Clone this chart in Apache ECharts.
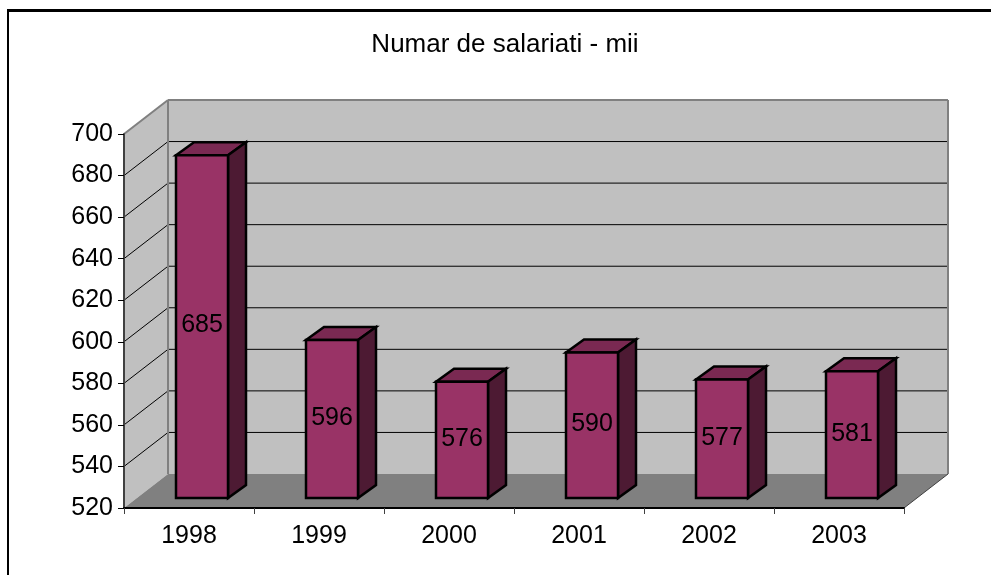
<!DOCTYPE html>
<html>
<head>
<meta charset="utf-8">
<style>
  html, body { margin: 0; padding: 0; background: #fff; }
  #main { width: 991px; height: 575px; }
</style>
<script src="https://cdn.jsdelivr.net/npm/echarts@6/dist/echarts.min.js"></script>
</head>
<body>
<div id="main"></div>
<script>
var years = ['1998', '1999', '2000', '2001', '2002', '2003'];
var salariati = [685, 596, 576, 590, 577, 581];
var yTicks = [520, 540, 560, 580, 600, 620, 640, 660, 680, 700];

// 3d look: wall depth, offset of the bar front from the axis, bar depth
var wallDx = 44, wallDy = -34;
var frontDx = 13, frontDy = -10;
var barDx = 18, barDy = -13;

var font = 'Liberation Sans';

function poly(points, fill, stroke, lineWidth) {
  return {
    type: 'polygon',
    shape: { points: points },
    style: { fill: fill, stroke: stroke || null, lineWidth: lineWidth || 0, lineJoin: 'miter' }
  };
}

function line(x1, y1, x2, y2, color, width) {
  return {
    type: 'line',
    shape: { x1: x1, y1: y1, x2: x2, y2: y2 },
    style: { stroke: color, lineWidth: width, fill: null }
  };
}

function renderWalls(params, api) {
  var r = params.coordSys;
  var left = r.x, right = r.x + r.width, top = r.y, bottom = r.y + r.height;
  var kids = [
    poly([[left, top], [left + wallDx, top + wallDy], [left + wallDx, bottom + wallDy], [left, bottom]], '#c0c0c0'),
    poly([[left + wallDx, top + wallDy], [right + wallDx, top + wallDy], [right + wallDx, bottom + wallDy], [left + wallDx, bottom + wallDy]], '#c0c0c0'),
    poly([[left, bottom], [left + wallDx, bottom + wallDy], [right + wallDx, bottom + wallDy], [right, bottom]], '#808080')
  ];
  yTicks.forEach(function (t) {
    if (t === yTicks[0] || t === yTicks[yTicks.length - 1]) return;
    var y = api.coord([0, t])[1];
    kids.push(line(left, y, left + wallDx, y + wallDy, '#000', 1));
    kids.push(line(left + wallDx, y + wallDy, right + wallDx, y + wallDy, '#000', 1));
  });
  kids.push(line(left, top, left + wallDx, top + wallDy, '#808080', 2));
  kids.push(line(left + wallDx, top + wallDy, right + wallDx, top + wallDy, '#808080', 2));
  kids.push(line(right + wallDx, top + wallDy, right + wallDx, bottom + wallDy, '#808080', 2));
  kids.push(line(left + wallDx, top + wallDy, left + wallDx, bottom + wallDy, '#808080', 2));
  kids.push(line(right, bottom, right + wallDx, bottom + wallDy, '#404040', 1));
  return { type: 'group', children: kids };
}

function renderBar(params, api) {
  var top = api.coord([api.value(0), api.value(1)]);
  var base = api.coord([api.value(0), yTicks[0]]);
  var w = api.size([1, 0])[0] * 0.4;
  var x0 = top[0] - w / 2 + frontDx, x1 = x0 + w;
  var y0 = top[1] + frontDy, y1 = base[1] + frontDy;
  return {
    type: 'group',
    children: [
      poly([[x0, y0], [x1, y0], [x1 + barDx, y0 + barDy], [x0 + barDx, y0 + barDy]], '#7a2952', '#000', 2.5),
      poly([[x1, y0], [x1 + barDx, y0 + barDy], [x1 + barDx, y1 + barDy], [x1, y1]], '#4d1a33', '#000', 2.5),
      poly([[x0, y0], [x1, y0], [x1, y1], [x0, y1]], '#993366', '#000', 2.5),
      {
        type: 'text',
        style: {
          x: (x0 + x1) / 2,
          y: (y0 + y1) / 2 - 1,
          text: String(api.value(1)),
          fill: '#000',
          font: '25px "' + font + '"',
          align: 'center',
          verticalAlign: 'middle'
        }
      }
    ]
  };
}

var myChart = echarts.init(document.getElementById('main'), null, { renderer: 'canvas' });

var option = {
  animation: false,
  backgroundColor: '#fff',
  textStyle: { fontFamily: font },
  title: {
    text: 'Numar de salariati - mii',
    left: 500,
    top: 27,
    textAlign: 'center',
    textStyle: { fontFamily: font, fontSize: 26, fontWeight: 'normal', color: '#000' }
  },
  grid: { left: 124, top: 134, width: 780, height: 374 },
  xAxis: {
    type: 'category',
    data: years,
    z: 5,
    axisLine: { lineStyle: { color: '#000', width: 2 } },
    axisTick: { show: true, length: 6, lineStyle: { color: '#404040', width: 1 } },
    axisLabel: { color: '#000', fontSize: 25, fontFamily: font, margin: 16 },
    splitLine: { show: false }
  },
  yAxis: {
    type: 'value',
    min: 520,
    max: 700,
    interval: 20,
    z: 5,
    axisLine: { show: true, lineStyle: { color: '#404040', width: 2 } },
    axisTick: { show: true, length: 6, lineStyle: { color: '#000', width: 1 } },
    axisLabel: { color: '#000', fontSize: 25, fontFamily: font, margin: 11 },
    splitLine: { show: false }
  },
  graphic: [
    { type: 'line', silent: true, shape: { x1: 7, y1: 10.5, x2: 991, y2: 10.5 }, style: { stroke: '#000', lineWidth: 3 } },
    { type: 'line', silent: true, shape: { x1: 8, y1: 10, x2: 8, y2: 575 }, style: { stroke: '#000', lineWidth: 2 } }
  ],
  series: [
    { type: 'custom', z: 1, silent: true, renderItem: renderWalls, data: [[0, yTicks[0]]], encode: { x: 0, y: 1 } },
    { type: 'custom', z: 3, silent: true, renderItem: renderBar, data: salariati.map(function (v, i) { return [i, v]; }), encode: { x: 0, y: 1 } }
  ]
};

myChart.setOption(option);
window.addEventListener('resize', myChart.resize);
</script>
</body>
</html>
